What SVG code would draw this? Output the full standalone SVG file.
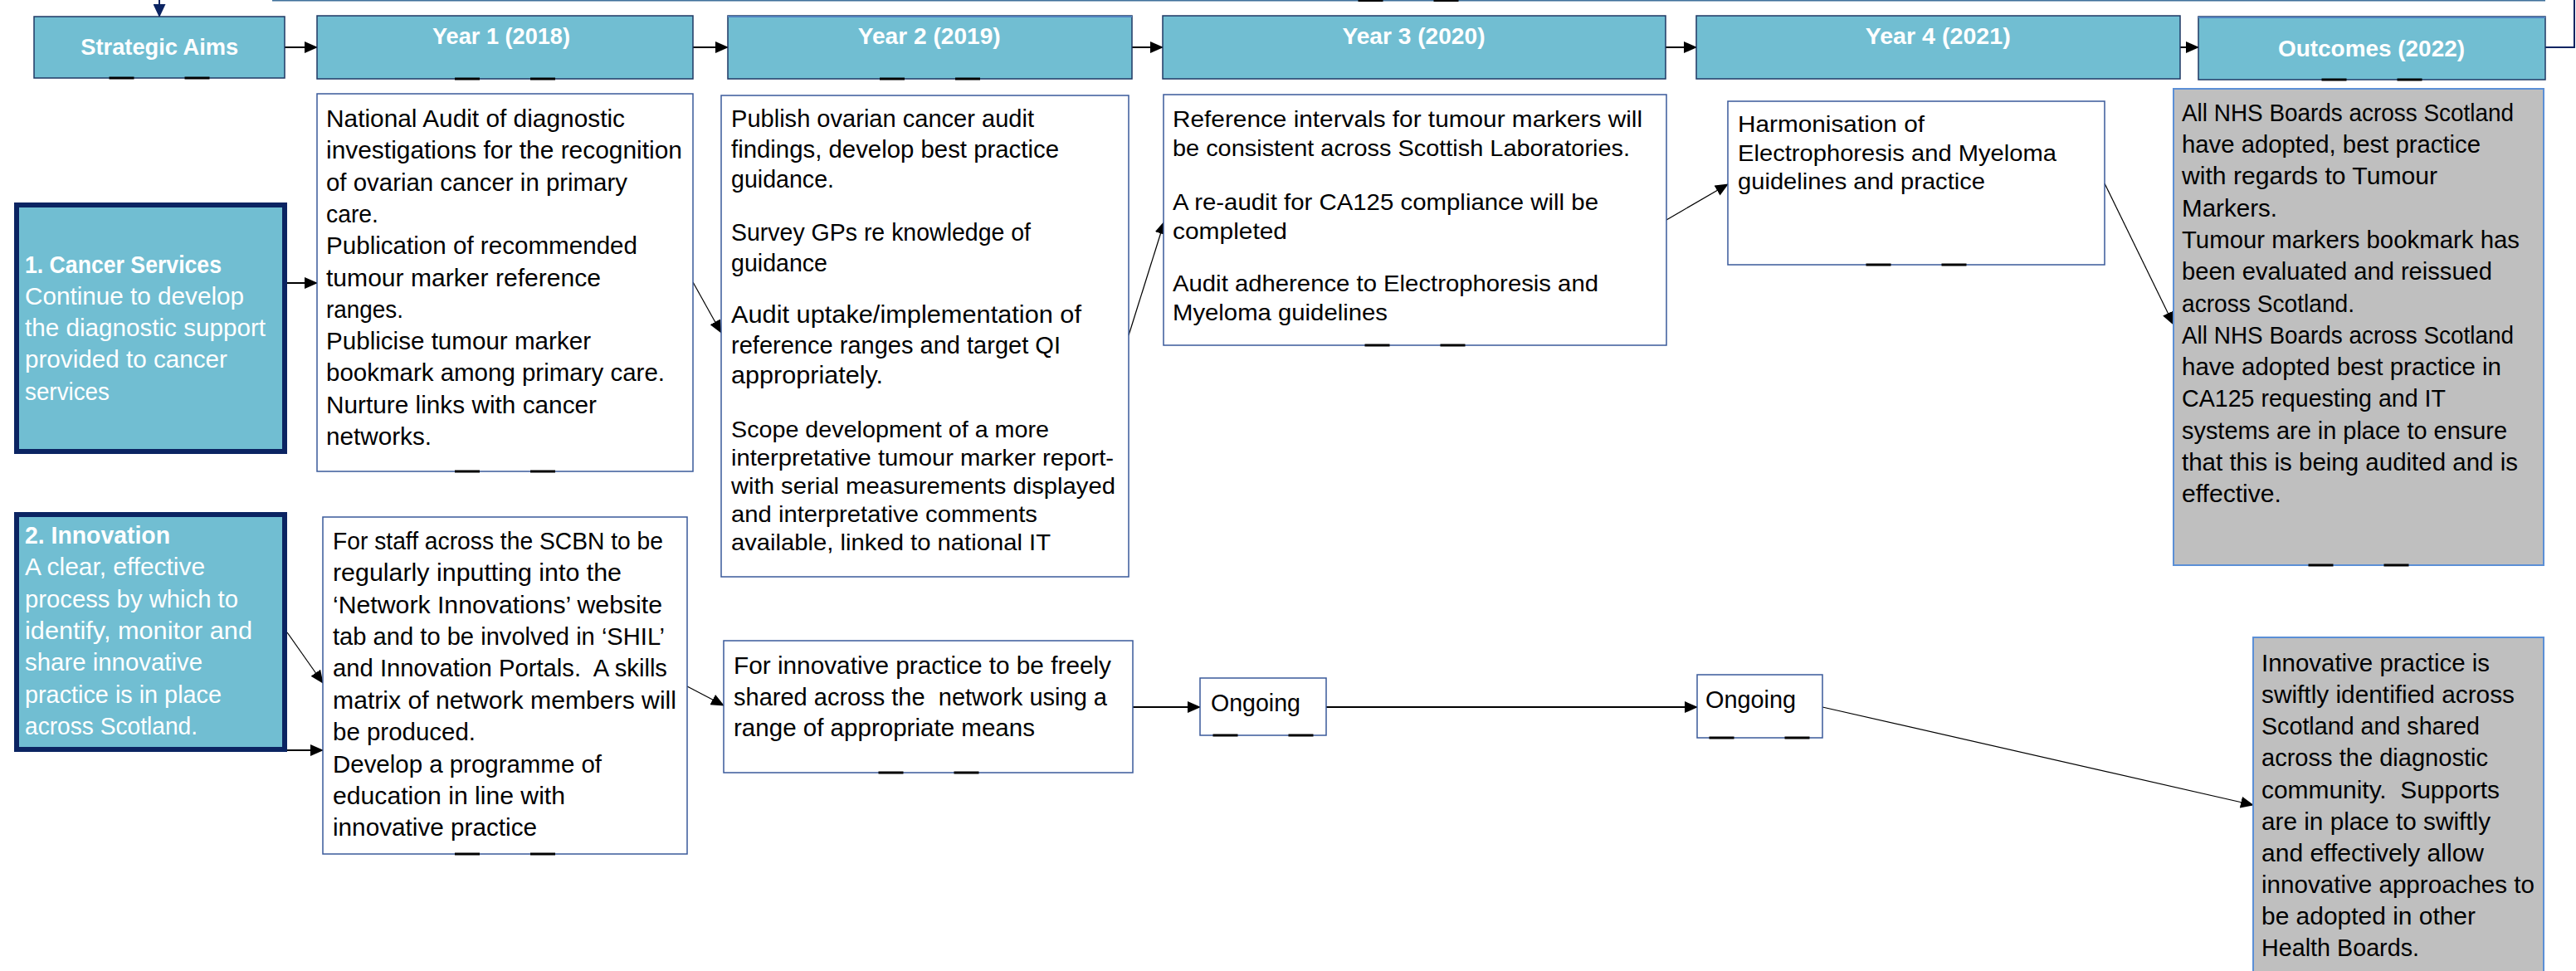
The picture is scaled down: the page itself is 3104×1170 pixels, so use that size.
<svg xmlns="http://www.w3.org/2000/svg" xmlns:xlink="http://www.w3.org/1999/xlink" width="3104" height="1170" viewBox="0 0 3104 1170">
<style>
text{font-family:"Liberation Sans",Arial,sans-serif;font-size:29px;fill:#000}
.h{font-weight:bold;font-size:28px;fill:#fff;text-anchor:middle}
.w{fill:#fff}
.b{font-weight:bold}
.ar{font-size:28.5px}
.title{fill:#71BED2;stroke:#1F3864;stroke-width:1.5}
.aim{fill:#71BED2;stroke:#0B2462;stroke-width:6}
.box{fill:#fff;stroke:#3A5A9A;stroke-width:1.5}
.grey{fill:#BFBFBF;stroke:#5B8FD6;stroke-width:2}
.c{fill:none;stroke:#000;stroke-width:2}
.d{fill:none;stroke:#000;stroke-width:1.2}
.n{fill:none;stroke:#0B2462;stroke-width:2}
.mk rect{fill:#1F3864}
.mkl rect{fill:#7FA8DC}
</style>
<defs>
<marker id="ah" markerUnits="userSpaceOnUse" markerWidth="16" markerHeight="14" refX="15" refY="7" orient="auto"><path d="M0,0 L16,7 L0,14 z" fill="#000"/></marker>
<marker id="ahn" markerUnits="userSpaceOnUse" markerWidth="16" markerHeight="15" refX="15" refY="7.5" orient="auto"><path d="M0,0 L16,7.5 L0,15 z" fill="#0B2462"/></marker>
<g id="mk"><rect x="-60.5" y="-1.5" width="30" height="3"/><rect x="30.5" y="-1.5" width="30" height="3"/></g>
</defs>

<g id="top-box">
<rect x="329" y="-40" width="2737" height="40.5" fill="#fff" stroke="#41719C" stroke-width="2"/>
<use xlink:href="#mk" x="1697" y="0.5" class="mk"/>
</g>

<g id="connectors">
<line x1="192" y1="-5" x2="192" y2="20" class="n" marker-end="url(#ahn)"/>
<polyline points="3067,57 3102,57 3102,-5" class="n"/>
<line x1="343" y1="57" x2="382" y2="57" class="c" marker-end="url(#ah)"/>
<line x1="835" y1="57" x2="877" y2="57" class="c" marker-end="url(#ah)"/>
<line x1="1364" y1="57" x2="1401" y2="57" class="c" marker-end="url(#ah)"/>
<line x1="2007" y1="57" x2="2044" y2="57" class="c" marker-end="url(#ah)"/>
<line x1="2627" y1="57" x2="2649" y2="57" class="c" marker-end="url(#ah)"/>
<line x1="346" y1="341" x2="382" y2="341" class="c" marker-end="url(#ah)"/>
<line x1="835" y1="340" x2="869" y2="401" class="d" marker-end="url(#ah)"/>
<line x1="1360" y1="404" x2="1403" y2="267" class="d" marker-end="url(#ah)"/>
<line x1="2008" y1="265" x2="2082" y2="222" class="d" marker-end="url(#ah)"/>
<line x1="2536" y1="221" x2="2619" y2="391" class="d" marker-end="url(#ah)"/>
<line x1="346" y1="762" x2="389" y2="823" class="d" marker-end="url(#ah)"/>
<line x1="341" y1="904" x2="389" y2="904" class="c" marker-end="url(#ah)"/>
<line x1="828" y1="827" x2="872" y2="850" class="d" marker-end="url(#ah)"/>
<line x1="1365" y1="852" x2="1446" y2="852" class="c" marker-end="url(#ah)"/>
<line x1="1598" y1="852" x2="2045" y2="852" class="c" marker-end="url(#ah)"/>
<line x1="2196" y1="852" x2="2715" y2="970" class="d" marker-end="url(#ah)"/>
</g>

<g id="strategic-aims">
<rect x="41" y="20" width="302" height="74" class="title"/>
<use xlink:href="#mk" x="192" y="94" class="mk"/>
<text x="192.3" y="66" class="h" textLength="190" lengthAdjust="spacingAndGlyphs">Strategic Aims</text>
</g>
<g id="year1">
<rect x="382" y="19" width="453" height="76" class="title"/>
<use xlink:href="#mk" x="608.5" y="95" class="mk"/>
<text x="604" y="53.3" class="h" textLength="166" lengthAdjust="spacingAndGlyphs">Year 1 (2018)</text>
</g>
<g id="year2">
<rect x="877" y="19" width="487" height="76" class="title"/>
<line x1="877" y1="20" x2="1364" y2="20" stroke="#4F81BD" stroke-width="2"/>
<use xlink:href="#mk" x="1120.5" y="95" class="mk"/>
<text x="1119.7" y="53.3" class="h" textLength="172" lengthAdjust="spacingAndGlyphs">Year 2 (2019)</text>
</g>
<g id="year3">
<rect x="1401" y="19" width="606" height="76" class="title"/>
<text x="1703.5" y="53.3" class="h" textLength="172" lengthAdjust="spacingAndGlyphs">Year 3 (2020)</text>
</g>
<g id="year4">
<rect x="2044" y="19" width="583" height="76" class="title"/>
<text x="2335.2" y="53.3" class="h" textLength="175" lengthAdjust="spacingAndGlyphs">Year 4 (2021)</text>
</g>
<g id="outcomes">
<rect x="2649" y="20" width="418" height="76" class="title"/>
<line x1="2649" y1="21" x2="3067" y2="21" stroke="#4F81BD" stroke-width="2"/>
<use xlink:href="#mk" x="2858" y="96" class="mk"/>
<text x="2857.5" y="68.3" class="h" textLength="225" lengthAdjust="spacingAndGlyphs">Outcomes (2022)</text>
</g>

<g id="aim-cancer">
<rect x="20" y="247" width="323" height="297" class="aim"/>
<text x="30" y="328.5" class="w b" textLength="237" lengthAdjust="spacingAndGlyphs">1. Cancer Services</text>
<text x="30" y="366.8" class="w" textLength="264" lengthAdjust="spacingAndGlyphs">Continue to develop</text>
<text x="30" y="405.1" class="w" textLength="290" lengthAdjust="spacingAndGlyphs">the diagnostic support</text>
<text x="30" y="443.4" class="w" textLength="244" lengthAdjust="spacingAndGlyphs">provided to cancer</text>
<text x="30" y="481.7" class="w" textLength="102" lengthAdjust="spacingAndGlyphs">services</text>
</g>

<g id="y1-cancer">
<rect x="382" y="113" width="453" height="455" class="box"/>
<use xlink:href="#mk" x="608.5" y="568" class="mk"/>
<text x="393" y="153" textLength="360" lengthAdjust="spacingAndGlyphs">National Audit of diagnostic</text>
<text x="393" y="191.3" textLength="429" lengthAdjust="spacingAndGlyphs">investigations for the recognition</text>
<text x="393" y="229.6" textLength="363" lengthAdjust="spacingAndGlyphs">of ovarian cancer in primary</text>
<text x="393" y="267.9" textLength="63" lengthAdjust="spacingAndGlyphs">care.</text>
<text x="393" y="306.2" textLength="375" lengthAdjust="spacingAndGlyphs">Publication of recommended</text>
<text x="393" y="344.5" textLength="331" lengthAdjust="spacingAndGlyphs">tumour marker reference</text>
<text x="393" y="382.8" textLength="93" lengthAdjust="spacingAndGlyphs">ranges.</text>
<text x="393" y="421.1" textLength="319" lengthAdjust="spacingAndGlyphs">Publicise tumour marker</text>
<text x="393" y="459.4" textLength="408" lengthAdjust="spacingAndGlyphs">bookmark among primary care.</text>
<text x="393" y="497.7" textLength="326" lengthAdjust="spacingAndGlyphs">Nurture links with cancer</text>
<text x="393" y="536" textLength="127" lengthAdjust="spacingAndGlyphs">networks.</text>
</g>

<g id="y2-cancer">
<rect x="869" y="115" width="491" height="580" class="box"/>
<text x="881" y="152.6" textLength="365" lengthAdjust="spacingAndGlyphs">Publish ovarian cancer audit</text>
<text x="881" y="189.5" textLength="395" lengthAdjust="spacingAndGlyphs">findings, develop best practice</text>
<text x="881" y="226.4" textLength="124" lengthAdjust="spacingAndGlyphs">guidance.</text>
<text x="881" y="289.8" textLength="361" lengthAdjust="spacingAndGlyphs">Survey GPs re knowledge of</text>
<text x="881" y="326.7" textLength="116" lengthAdjust="spacingAndGlyphs">guidance</text>
<text x="881" y="388.6" textLength="422" lengthAdjust="spacingAndGlyphs">Audit uptake/implementation of</text>
<text x="881" y="425.5" textLength="397" lengthAdjust="spacingAndGlyphs">reference ranges and target QI</text>
<text x="881" y="462.4" textLength="183" lengthAdjust="spacingAndGlyphs">appropriately.</text>
<text x="881" y="527" class="ar" textLength="383" lengthAdjust="spacingAndGlyphs">Scope development of a more</text>
<text x="881" y="561" class="ar" textLength="461" lengthAdjust="spacingAndGlyphs">interpretative tumour marker report-</text>
<text x="881" y="595" class="ar" textLength="463" lengthAdjust="spacingAndGlyphs">with serial measurements displayed</text>
<text x="881" y="629" class="ar" textLength="369" lengthAdjust="spacingAndGlyphs">and interpretative comments</text>
<text x="881" y="663" class="ar" textLength="385" lengthAdjust="spacingAndGlyphs">available, linked to national IT</text>
</g>

<g id="y3-cancer">
<rect x="1402" y="114" width="606" height="302" class="box"/>
<use xlink:href="#mk" x="1705" y="416" class="mk"/>
<text x="1413" y="152.7" class="ar" textLength="566" lengthAdjust="spacingAndGlyphs">Reference intervals for tumour markers will</text>
<text x="1413" y="188.3" class="ar" textLength="551" lengthAdjust="spacingAndGlyphs">be consistent across Scottish Laboratories.</text>
<text x="1413" y="252.7" class="ar" textLength="513" lengthAdjust="spacingAndGlyphs">A re-audit for CA125 compliance will be</text>
<text x="1413" y="288.3" class="ar" textLength="138" lengthAdjust="spacingAndGlyphs">completed</text>
<text x="1413" y="350.7" class="ar" textLength="513" lengthAdjust="spacingAndGlyphs">Audit adherence to Electrophoresis and</text>
<text x="1413" y="386" class="ar" textLength="259" lengthAdjust="spacingAndGlyphs">Myeloma guidelines</text>
</g>

<g id="y4-cancer">
<rect x="2082" y="122" width="454" height="197" class="box"/>
<use xlink:href="#mk" x="2309" y="319" class="mk"/>
<text x="2094" y="159.3" class="ar" textLength="225" lengthAdjust="spacingAndGlyphs">Harmonisation of</text>
<text x="2094" y="193.8" class="ar" textLength="384" lengthAdjust="spacingAndGlyphs">Electrophoresis and Myeloma</text>
<text x="2094" y="228.3" class="ar" textLength="298" lengthAdjust="spacingAndGlyphs">guidelines and practice</text>
</g>

<g id="outcome-cancer">
<rect x="2619" y="107" width="446" height="574" class="grey"/>
<use xlink:href="#mk" x="2842" y="681" class="mkl"/>
<text x="2629" y="145.9" textLength="400" lengthAdjust="spacingAndGlyphs">All NHS Boards across Scotland</text>
<text x="2629" y="184.2" textLength="360" lengthAdjust="spacingAndGlyphs">have adopted, best practice</text>
<text x="2629" y="222.4" textLength="308" lengthAdjust="spacingAndGlyphs">with regards to Tumour</text>
<text x="2629" y="260.7" textLength="115" lengthAdjust="spacingAndGlyphs">Markers.</text>
<text x="2629" y="299" textLength="407" lengthAdjust="spacingAndGlyphs">Tumour markers bookmark has</text>
<text x="2629" y="337.3" textLength="374" lengthAdjust="spacingAndGlyphs">been evaluated and reissued</text>
<text x="2629" y="375.5" textLength="208" lengthAdjust="spacingAndGlyphs">across Scotland.</text>
<text x="2629" y="413.8" textLength="400" lengthAdjust="spacingAndGlyphs">All NHS Boards across Scotland</text>
<text x="2629" y="452.1" textLength="385" lengthAdjust="spacingAndGlyphs">have adopted best practice in</text>
<text x="2629" y="490.3" textLength="318" lengthAdjust="spacingAndGlyphs">CA125 requesting and IT</text>
<text x="2629" y="528.6" textLength="392" lengthAdjust="spacingAndGlyphs">systems are in place to ensure</text>
<text x="2629" y="566.9" textLength="405" lengthAdjust="spacingAndGlyphs">that this is being audited and is</text>
<text x="2629" y="605.2" textLength="120" lengthAdjust="spacingAndGlyphs">effective.</text>
</g>

<g id="aim-innovation">
<rect x="20" y="620" width="323" height="283" class="aim"/>
<text x="30" y="655" class="w b" textLength="175" lengthAdjust="spacingAndGlyphs">2. Innovation</text>
<text x="30" y="693.3" class="w" textLength="217" lengthAdjust="spacingAndGlyphs">A clear, effective</text>
<text x="30" y="731.6" class="w" textLength="257" lengthAdjust="spacingAndGlyphs">process by which to</text>
<text x="30" y="769.9" class="w" textLength="274" lengthAdjust="spacingAndGlyphs">identify, monitor and</text>
<text x="30" y="808.2" class="w" textLength="214" lengthAdjust="spacingAndGlyphs">share innovative</text>
<text x="30" y="846.5" class="w" textLength="237" lengthAdjust="spacingAndGlyphs">practice is in place</text>
<text x="30" y="884.8" class="w" textLength="208" lengthAdjust="spacingAndGlyphs">across Scotland.</text>
</g>

<g id="y1-innovation">
<rect x="389" y="623" width="439" height="406" class="box"/>
<use xlink:href="#mk" x="608.5" y="1029" class="mk"/>
<text x="401" y="661.7" textLength="398" lengthAdjust="spacingAndGlyphs">For staff across the SCBN to be</text>
<text x="401" y="700.1" textLength="348" lengthAdjust="spacingAndGlyphs">regularly inputting into the</text>
<text x="401" y="738.5" textLength="397" lengthAdjust="spacingAndGlyphs">‘Network Innovations’ website</text>
<text x="401" y="776.9" textLength="400" lengthAdjust="spacingAndGlyphs">tab and to be involved in ‘SHIL’</text>
<text x="401" y="815.3" xml:space="preserve" textLength="403" lengthAdjust="spacingAndGlyphs">and Innovation Portals.  A skills</text>
<text x="401" y="853.7" textLength="414" lengthAdjust="spacingAndGlyphs">matrix of network members will</text>
<text x="401" y="892.1" textLength="172" lengthAdjust="spacingAndGlyphs">be produced.</text>
<text x="401" y="930.5" textLength="324" lengthAdjust="spacingAndGlyphs">Develop a programme of</text>
<text x="401" y="968.9" textLength="280" lengthAdjust="spacingAndGlyphs">education in line with</text>
<text x="401" y="1007.3" textLength="246" lengthAdjust="spacingAndGlyphs">innovative practice</text>
</g>

<g id="y2-innovation">
<rect x="872" y="772" width="493" height="159" class="box"/>
<use xlink:href="#mk" x="1119" y="931" class="mk"/>
<text x="884" y="812.3" textLength="455" lengthAdjust="spacingAndGlyphs">For innovative practice to be freely</text>
<text x="884" y="849.5" xml:space="preserve" textLength="450" lengthAdjust="spacingAndGlyphs">shared across the  network using a</text>
<text x="884" y="886.7" textLength="363" lengthAdjust="spacingAndGlyphs">range of appropriate means</text>
</g>

<g id="y3-innovation">
<rect x="1446" y="817" width="152" height="69" class="box"/>
<use xlink:href="#mk" x="1522" y="886" class="mk"/>
<text x="1459" y="856.7" textLength="108" lengthAdjust="spacingAndGlyphs">Ongoing</text>
</g>

<g id="y4-innovation">
<rect x="2045" y="813" width="151" height="76" class="box"/>
<use xlink:href="#mk" x="2120" y="889" class="mk"/>
<text x="2055" y="853.3" textLength="109" lengthAdjust="spacingAndGlyphs">Ongoing</text>
</g>

<g id="outcome-innovation">
<rect x="2715" y="768" width="350" height="410" class="grey"/>
<text x="2725" y="809" textLength="275" lengthAdjust="spacingAndGlyphs">Innovative practice is</text>
<text x="2725" y="847.1" textLength="305" lengthAdjust="spacingAndGlyphs">swiftly identified across</text>
<text x="2725" y="885.3" textLength="263" lengthAdjust="spacingAndGlyphs">Scotland and shared</text>
<text x="2725" y="923.4" textLength="273" lengthAdjust="spacingAndGlyphs">across the diagnostic</text>
<text x="2725" y="961.6" xml:space="preserve" textLength="287" lengthAdjust="spacingAndGlyphs">community.  Supports</text>
<text x="2725" y="999.7" textLength="276" lengthAdjust="spacingAndGlyphs">are in place to swiftly</text>
<text x="2725" y="1037.8" textLength="268" lengthAdjust="spacingAndGlyphs">and effectively allow</text>
<text x="2725" y="1076" textLength="329" lengthAdjust="spacingAndGlyphs">innovative approaches to</text>
<text x="2725" y="1114.1" textLength="258" lengthAdjust="spacingAndGlyphs">be adopted in other</text>
<text x="2725" y="1152.3" textLength="190" lengthAdjust="spacingAndGlyphs">Health Boards.</text>
</g>
</svg>
